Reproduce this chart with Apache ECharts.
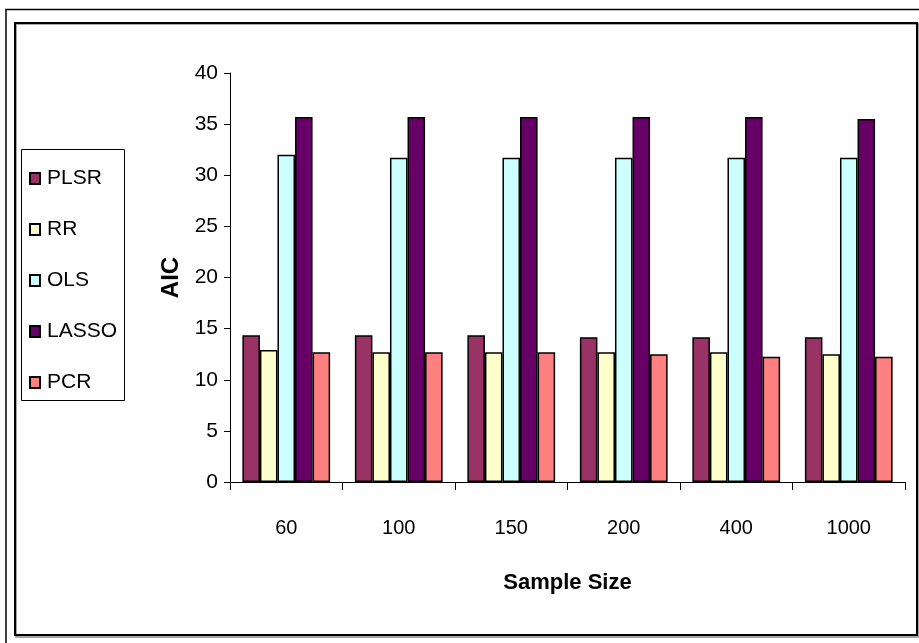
<!DOCTYPE html>
<html><head><meta charset="utf-8">
<script src="https://cdn.jsdelivr.net/npm/echarts@6/dist/echarts.min.js"></script>
<style>html,body{margin:0;padding:0;background:#fff}#c{width:919px;height:643px}</style>
</head><body><div id="c"></div>
<script>
const categories = ['60', '100', '150', '200', '400', '1000'];
const seriesNames = ['PLSR', 'RR', 'OLS', 'LASSO', 'PCR'];
const PLSR  = [14.35, 14.35, 14.35, 14.15, 14.15, 14.15];
const RR    = [12.9, 12.7, 12.7, 12.7, 12.7, 12.5];
const OLS   = [32.0, 31.7, 31.7, 31.7, 31.7, 31.7];
const LASSO = [35.7, 35.7, 35.7, 35.7, 35.7, 35.5];
const PCR   = [12.7, 12.7, 12.7, 12.5, 12.25, 12.25];
const yTicks = [0, 5, 10, 15, 20, 25, 30, 35, 40];

const colors = ['#993366', '#FFFFCC', '#CCFFFF', '#660066', '#FF8080'];
const values = [PLSR, RR, OLS, LASSO, PCR];
const FONT = "'Liberation Sans Narrow', 'Liberation Sans', Arial, sans-serif";

const chart = echarts.init(document.getElementById('c'), null, {renderer: 'canvas'});
chart.setOption({
  backgroundColor: '#fff',
  animation: false,
  color: colors,
  textStyle: {fontFamily: FONT, color: '#000'},
  graphic: [
    {type: 'rect', shape: {x: 6, y: 9.5, width: 1000, height: 1000}, style: {fill: 'none', stroke: '#000', lineWidth: 1.5}, z: 0},
    {type: 'rect', shape: {x: 16, y: 24, width: 903, height: 613}, style: {fill: 'none', stroke: '#888', lineWidth: 1.5}, z: 0},
    {type: 'rect', shape: {x: 15, y: 23, width: 902, height: 612}, style: {fill: 'none', stroke: '#000', lineWidth: 2}, z: 0},
    {type: 'rect', shape: {x: 21.5, y: 149.5, width: 103, height: 251}, style: {fill: 'none', stroke: '#000', lineWidth: 1}, z: 0}
  ],
  legend: {
    orient: 'vertical',
    left: 21, top: 149,
    padding: [19, 8, 11, 8],
    itemWidth: 10, itemHeight: 11,
    itemGap: 30,
    icon: 'rect',
    data: seriesNames,
    textStyle: {fontFamily: FONT, fontSize: 21, color: '#000', lineHeight: 20, padding: [0, 0, 0, 2]}
  },
  grid: {left: 230, right: 14, top: 73, bottom: 161, containLabel: false},
  xAxis: {
    type: 'category',
    data: categories,
    name: 'Sample Size',
    nameLocation: 'middle',
    nameGap: 90,
    nameTextStyle: {fontFamily: FONT, fontSize: 22, fontWeight: 'bold', color: '#000', verticalAlign: 'top'},
    axisLine: {lineStyle: {color: '#000', width: 1}},
    axisTick: {show: true, length: 8, alignWithLabel: false, lineStyle: {color: '#000'}},
    axisLabel: {fontFamily: FONT, fontSize: 20, color: '#000', margin: 36},
    splitLine: {show: false}
  },
  yAxis: {
    type: 'value',
    min: yTicks[0], max: yTicks[yTicks.length - 1], interval: 5,
    name: 'AIC',
    nameLocation: 'middle',
    nameGap: 46,
    nameRotate: 90,
    nameTextStyle: {fontFamily: FONT, fontSize: 24, fontWeight: 'bold', color: '#000'},
    axisLine: {show: true, lineStyle: {color: '#000', width: 1}},
    axisTick: {show: true, length: 6, lineStyle: {color: '#000'}},
    axisLabel: {fontFamily: FONT, fontSize: 21, color: '#000', margin: 12},
    splitLine: {show: false}
  },
  series: seriesNames.map((n, i) => ({
    name: n,
    type: 'bar',
    data: values[i],
    barGap: '0%',
    barCategoryGap: '22%',
    itemStyle: {color: colors[i], borderColor: '#000', borderWidth: 1.5}
  }))
});
</script></body></html>
